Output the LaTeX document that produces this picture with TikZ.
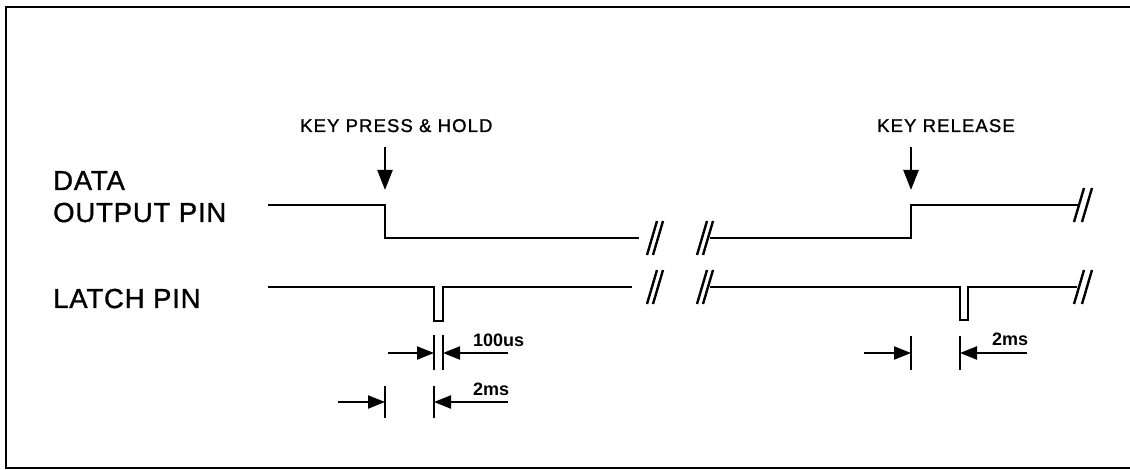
\documentclass[tikz,border=0pt]{standalone}
\usepackage{fontspec}
\setmainfont{Liberation Sans}
\newfontfamily\pinfont[LetterSpace=3,FakeBold=1.2]{Liberation Sans}
\newfontfamily\keyfont[LetterSpace=6,FakeBold=1.2]{Liberation Sans}
\usetikzlibrary{arrows.meta}

\begin{document}
\begin{tikzpicture}[x=1pt, y=-1pt,
  wave/.style={line width=2.4pt, line join=miter},
  brk/.style={line width=2.4pt},
  tick/.style={line width=2.2pt},
  dimarrow/.style={line width=2.2pt, -{Triangle[length=17pt,width=13pt]}},
  keyarrow/.style={line width=2.4pt, -{Triangle[length=20pt,width=15pt]}},
  pinlabel/.style={anchor=base west, inner sep=0pt, font=\pinfont\fontsize{27.5}{32}\selectfont},
  keylabel/.style={anchor=base west, inner sep=0pt, font=\keyfont\fontsize{18.5}{22}\selectfont},
  dimlabel/.style={anchor=base west, inner sep=0pt, font=\bfseries\fontsize{18}{22}\selectfont},
]
\useasboundingbox (0,0) rectangle (1130,470);
\draw[line width=2.4pt] (1130,7) -- (6,7) -- (6,468) -- (1130,468);

% signal names
\node[pinlabel] (data) at (53,190) {DATA};
\node[pinlabel] (out) at (53,222) {OUTPUT PIN};
\node[pinlabel] (latch) at (53,308) {LATCH PIN};

% events
\node[keylabel] (press) at (300,132) {KEY PRESS \& HOLD};
\node[keylabel] (rel) at (877,132) {KEY RELEASE};
\coordinate (presstop) at (385,147);
\coordinate (pressedge) at (385,190);
\coordinate (reltop) at (911,147);
\coordinate (reledge) at (911,190);
\draw[keyarrow] (presstop) -- (pressedge);
\draw[keyarrow] (reltop) -- (reledge);

% data output
\draw[wave] (268,205) -- (385,205) -- (385,238) -- (639,238);
\draw[wave] (710,238) -- (911,238) -- (911,205) -- (1078,205);

% latch
\draw[wave] (268,287) -- (434,287) -- (434,321) -- (443,321) -- (443,287) -- (632,287);
\draw[wave] (710,287) -- (960,287) -- (960,320) -- (968,320) -- (968,287) -- (1077,287);

% breaks
\foreach \y in {238,287}
  \foreach \x in {652,658,702,708}
    \draw[brk] (\x-5,\y+17) -- (\x+5,\y-17);
\foreach \y in {205,287}
  \foreach \x in {1079,1087}
    \draw[brk] (\x-5,\y+17) -- (\x+5,\y-17);

% timing
\draw[tick] (434,335) -- (434,370);
\draw[tick] (443,335) -- (443,370);
\draw[dimarrow] (388,353) -- (434,353);
\draw[dimarrow] (508,353) -- (443,353);
\node[dimlabel] (t100) at (473,346) {100us};

\draw[tick] (385,386) -- (385,418);
\draw[tick] (434,386) -- (434,418);
\draw[dimarrow] (338,402) -- (385,402);
\draw[dimarrow] (508,402) -- (434,402);
\node[dimlabel] (t2a) at (473,395) {2ms};

\draw[tick] (911,336) -- (911,370);
\draw[tick] (960,336) -- (960,370);
\draw[dimarrow] (864,353) -- (911,353);
\draw[dimarrow] (1027,353) -- (960,353);
\node[dimlabel] (t2b) at (992,345) {2ms};
\end{tikzpicture}
\end{document}
